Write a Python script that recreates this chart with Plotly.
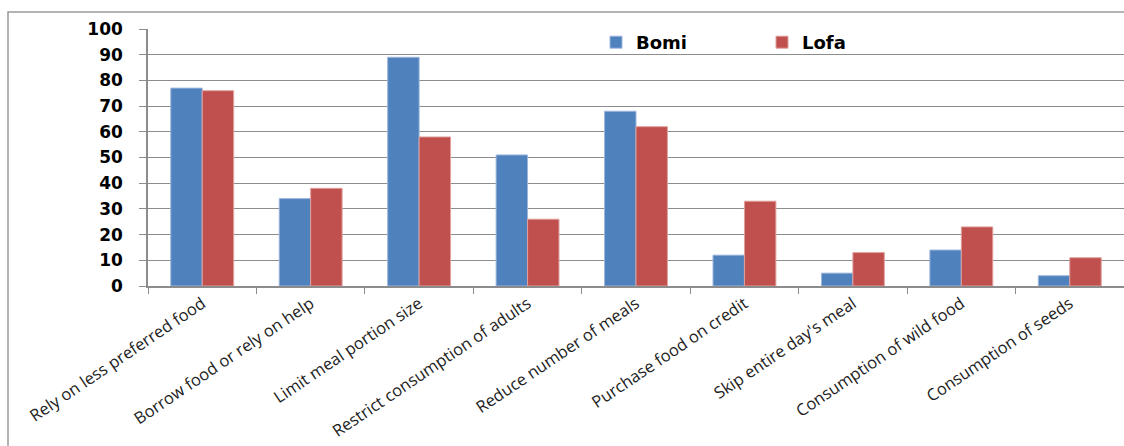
import plotly.graph_objects as go

categories = [
    "Rely on less preferred food",
    "Borrow food or rely on help",
    "Limit meal portion size",
    "Restrict consumption of adults",
    "Reduce number of meals",
    "Purchase food on credit",
    "Skip entire day's meal",
    "Consumption of wild food",
    "Consumption of seeds",
]
bomi = [77, 34, 89, 51, 68, 12, 5, 14, 4]
lofa = [76, 38, 58, 26, 62, 33, 13, 23, 11]
y_ticks = list(range(0, 101, 10))

W, H = 1124, 446
L, R, T, B = 148, 0, 29, 160
pw, ph = W - L - R, H - T - B


def px(x):
    return (x - L) / pw


def py(y):
    return (H - B - y) / ph


fig = go.Figure()
fig.add_trace(go.Bar(name="Bomi", x=categories, y=bomi,
                     marker=dict(color="#4F81BD", line=dict(color="#9db6dc", width=1))))
fig.add_trace(go.Bar(name="Lofa", x=categories, y=lofa,
                     marker=dict(color="#C0504D", line=dict(color="#e0a09e", width=1))))

# outer chart frame
fig.add_shape(type="rect", xref="paper", yref="paper",
              x0=px(8), x1=px(1140), y0=py(12), y1=py(470),
              line=dict(color="#9a9a9a", width=1.5), fillcolor="rgba(0,0,0,0)", layer="below")

fig.update_layout(
    width=W, height=H,
    margin=dict(l=L, r=R, t=T, b=B),
    paper_bgcolor="white", plot_bgcolor="white",
    barmode="group", bargap=0.42, bargroupgap=0,
    showlegend=True,
    legend=dict(orientation="h", x=px(596), y=py(24), xanchor="left", yanchor="top",
                entrywidth=121, entrywidthmode="pixels",
                font=dict(family="DejaVu Sans", size=18, color="black", weight="bold"),
                bgcolor="rgba(0,0,0,0)"),
    xaxis=dict(
        type="category", range=[-0.5, 8.5], tickson="boundaries",
        ticks="outside", ticklen=6, tickcolor="#8c8c8c",
        showline=True, linecolor="#8c8c8c", linewidth=1.5,
        tickangle=-34, showgrid=False,
        tickfont=dict(family="Open Sans", size=16.5, color="#222"),
    ),
    yaxis=dict(
        range=[0, 100], tickvals=y_ticks, ticktext=[str(v) for v in y_ticks],
        ticks="outside", ticklen=7, tickcolor="#8c8c8c",
        showline=True, linecolor="#8c8c8c", linewidth=1.5,
        showgrid=True, gridcolor="#8c8c8c", gridwidth=1,
        zeroline=False,
        tickfont=dict(family="DejaVu Sans", size=17, color="black", weight="bold"),
        ticklabelstandoff=13,
    ),
)

fig.write_html("out.html")
